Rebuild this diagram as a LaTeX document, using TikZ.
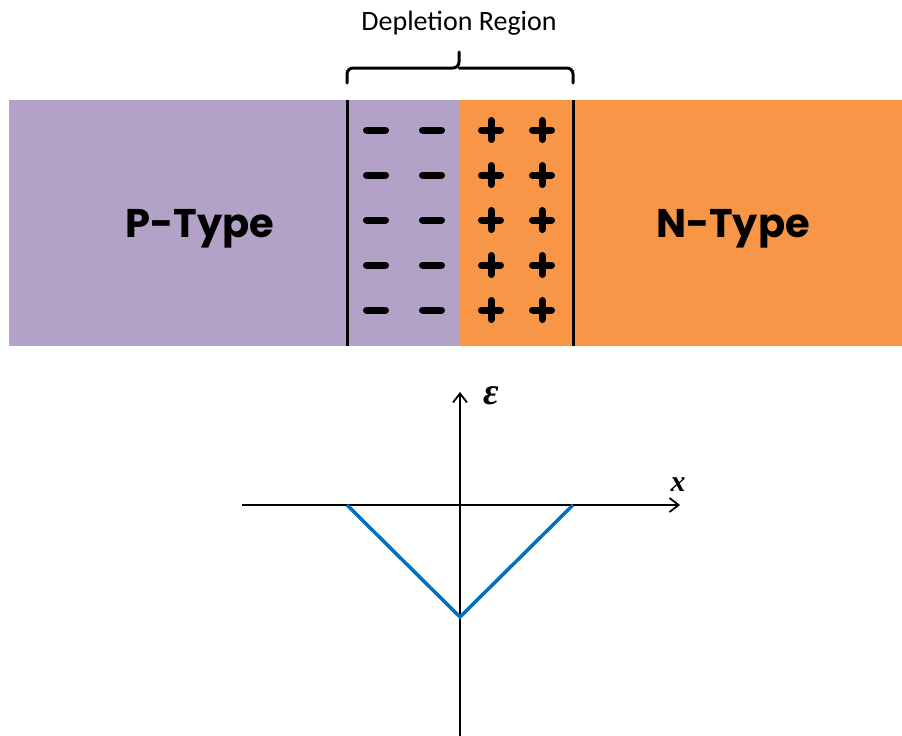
\documentclass[tikz,border=0pt]{standalone}
\usepackage{fontspec}
\setmainfont{Carlito}
\newfontfamily\popfont{Poppins}
\newfontfamily\labfont{Liberation Serif}
\usetikzlibrary{arrows.meta}
\definecolor{ptype}{HTML}{B3A2C7}
\definecolor{ntype}{HTML}{F79646}
\definecolor{fieldblue}{HTML}{0070C0}
\tikzset{
  charge/.style={line width=7pt, line cap=round},
  wall/.style={line width=3pt},
  axis/.style={line width=1.8pt, -{Straight Barb[length=9pt,width=14pt,line width=1.8pt]}},
  bigtype/.style={font=\popfont\bfseries\fontsize{40}{48}\selectfont},
  axlabel/.style={font=\labfont\bfseries\itshape\fontsize{30}{30}\selectfont, inner sep=0pt},
}
\begin{document}
\begin{tikzpicture}[x=1pt,y=-1pt]
\useasboundingbox (0,0) rectangle (902,736);
% regions
\fill[ptype] (9,100) rectangle (460,346);
\fill[ntype] (460,100) rectangle (902,346);
\node[bigtype] (ptxt) at (200,229) {P-Type};
\node[bigtype] (ntxt) at (733,229) {N-Type};
% walls
\coordinate (wlt) at (347,100); \coordinate (wlb) at (347,346);
\coordinate (wrt) at (573,100); \coordinate (wrb) at (573,346);
\draw[wall] (wlt) -- (wlb);
\draw[wall] (wrt) -- (wrb);
% charges
\foreach \y in {130,175,220,265,310}{
  \foreach \x in {376,432}{
    \draw[charge] (\x-9.5,\y) -- (\x+9.5,\y);
  }
  \foreach \x in {491,542}{
    \draw[charge] (\x-9.5,\y) -- (\x+9.5,\y);
    \draw[charge] (\x,\y-9.5) -- (\x,\y+9.5);
  }
}
% brace
\draw[line width=3pt, line cap=round, rounded corners=6pt]
  (347,83) -- (347,68) -- (459,68) -- (459,52);
\draw[line width=3pt, line cap=round, rounded corners=6pt]
  (573,83) -- (573,68) -- (459,68);
\node[font=\fontsize{28}{34}\selectfont] (dep) at (459,23) {Depletion Region};
% axes
\coordinate (o) at (460,505);
\coordinate (xs) at (242,505);
\coordinate (xe) at (680,505);
\coordinate (ys) at (460,736);
\coordinate (ye) at (460,392);
\draw[axis] (xs) -- (xe);
\draw[axis] (ys) -- (ye);
\node[axlabel, font=\labfont\bfseries\itshape\fontsize{38}{38}\selectfont] (elab) at (491,396) {ε};
\node[axlabel] (xlab) at (678,485) {x};
% field
\coordinate (fa) at (347,505);
\coordinate (fm) at (460,617);
\coordinate (fb) at (573,505);
\draw[fieldblue, line width=3.5pt] (fa) -- (fm) -- (fb);
\end{tikzpicture}
\end{document}
